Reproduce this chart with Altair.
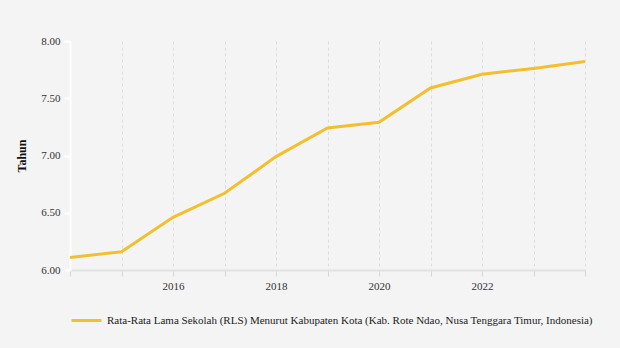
import altair as alt
import pandas as pd

years = [2014, 2015, 2016, 2017, 2018, 2019, 2020, 2021, 2022, 2023, 2024]
values = [6.11, 6.16, 6.46, 6.67, 6.99, 7.24, 7.29, 7.59, 7.71, 7.76, 7.82]
series_name = "Rata-Rata Lama Sekolah (RLS) Menurut Kabupaten Kota (Kab. Rote Ndao, Nusa Tenggara Timur, Indonesia)"
y_ticks = [6.0, 6.5, 7.0, 7.5, 8.0]

df = pd.DataFrame({"year": years, "value": values, "series": [series_name] * len(years)})

FONT = "Liberation Serif"

chart = alt.Chart(df).mark_line(strokeWidth=3).encode(
    x=alt.X(
        "year:Q",
        scale=alt.Scale(domain=[2014, 2024], nice=False, zero=False),
        axis=alt.Axis(
            title=None,
            values=years,
            format="d",
            labelExpr="(datum.value % 2 == 0 && datum.value > 2014 && datum.value < 2024) ? datum.label : ''",
            grid=True,
            gridDash=[3, 3],
            gridColor="#dcdcdc",
            gridWidth=1,
            domainColor="#e2e2e2",
            domainWidth=2,
            tickColor="#d6d6d6",
            tickSize=6,
            labelFont=FONT,
            labelFontSize=11,
            labelColor="#333333",
            labelPadding=4,
        ),
    ),
    y=alt.Y(
        "value:Q",
        scale=alt.Scale(domain=[6.0, 8.0], nice=False, zero=False),
        axis=alt.Axis(
            title="Tahun",
            values=y_ticks,
            format=".2f",
            grid=False,
            domainColor="#ffffff",
            domainWidth=2,
            tickColor="#ffffff",
            tickWidth=2,
            tickSize=6,
            labelFont=FONT,
            labelFontSize=11,
            labelColor="#333333",
            labelPadding=4,
            titleFont=FONT,
            titleFontSize=12,
            titleFontWeight="bold",
            titleColor="#111111",
            titlePadding=12,
        ),
    ),
    color=alt.Color(
        "series:N",
        scale=alt.Scale(range=["#F2C02E"]),
        legend=alt.Legend(
            title=None,
            orient="none",
            legendX=0,
            legendY=263,
            symbolType="stroke",
            symbolSize=900,
            symbolStrokeWidth=3,
            labelFont=FONT,
            labelFontSize=11,
            labelColor="#222222",
            labelLimit=0,
            labelOffset=4,
        ),
    ),
).properties(
    width=515,
    height=229,
    background="#f4f4f4",
    padding={"left": 70, "top": 41, "right": 35, "bottom": 78},
    autosize=alt.AutoSizeParams(type="none"),
).configure(font=FONT).configure_view(stroke=None)

chart.save("out.html", embed_options={"renderer": "svg", "actions": False})
